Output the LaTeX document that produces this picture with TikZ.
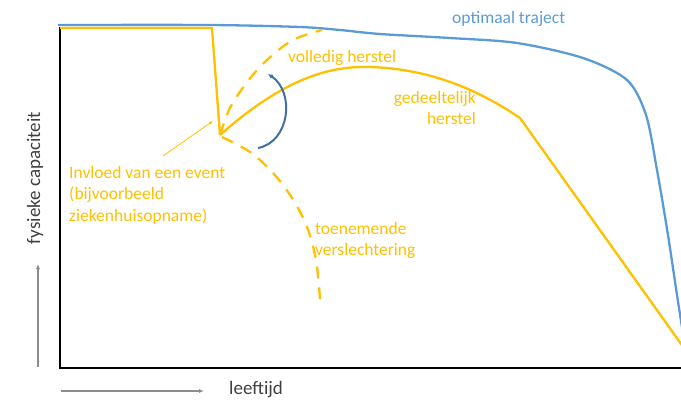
\documentclass[tikz,border=0pt]{standalone}
\usepackage{fontspec}
\setmainfont{Carlito}
\usetikzlibrary{arrows.meta}

\definecolor{trajblue}{HTML}{5B9BD5}
\definecolor{trajorange}{HTML}{FFC000}
\definecolor{arrowblue}{HTML}{41719C}
\definecolor{guidegray}{HTML}{8C8C8C}
\definecolor{labelink}{HTML}{404040}

\begin{document}
\begin{tikzpicture}[
  x=1pt,y=-1pt,
  font=\fontsize{17.5}{21.5}\selectfont,
  axis/.style={black,line width=2.6pt,line join=miter},
  guide/.style={guidegray,line width=1.3pt,-{Latex[length=5pt,width=4pt]}},
  optimal/.style={trajblue,line width=2.3pt},
  recovery/.style={trajorange,line width=2.3pt},
  recdash/.style={recovery,dash pattern=on 12pt off 9pt},
  note/.style={text=trajorange,align=left,inner sep=0pt},
  axlabel/.style={text=labelink,inner sep=0pt,font=\fontsize{19}{23}\selectfont}
]
  \path[use as bounding box] (0,0) rectangle (681,400);

  % axes and the two guide arrows
  \coordinate (origin) at (60,368);
  \draw[axis] (60,27) -- (origin) -- (684,368);
  \coordinate (yfoot) at (38,367);
  \coordinate (yhead) at (38,264);
  \draw[guide] (yfoot) -- (yhead);
  \coordinate (xfoot) at (61,391);
  \coordinate (xhead) at (204,391);
  \draw[guide] (xfoot) -- (xhead);
  \node[axlabel,rotate=90] (ylabel) at (35,178) {fysieke capaciteit};
  \node[axlabel,anchor=west] (xlabel) at (229,390) {leeftijd};

  % optimal trajectory
  \draw[optimal] plot[smooth,tension=.5] coordinates {
    (58,25) (210,25) (300,27) (340,30) (380,34) (450,38) (517,43)
    (583,58) (627,80) (646,115) (657,170) (668,235) (677,295) (684,340)};
  \node[text=trajblue,inner sep=0pt,anchor=west] (optlabel) at (452,19) {optimaal traject};

  % event and the three possible courses
  \coordinate (event) at (220,135);
  \draw[recovery,line join=miter] (60,28) -- (212,28) -- (event);
  \draw[recovery] (event) .. controls (280,82) and (325,66) .. (368,67)
    .. controls (420,68) and (470,84) .. (520,118) -- (684,348);
  \draw[recdash] plot[smooth,tension=.6] coordinates {
    (event) (230,108) (248,81) (267,60) (293,40) (322,30)};
  \draw[recdash] plot[smooth,tension=.6] coordinates {
    (222,137) (250,152) (273,173) (292,198) (307,227) (316,260) (320,299)};

  \coordinate (bendfoot) at (258,148);
  \coordinate (bendhead) at (268,74);
  \draw[arrowblue,line width=2pt,-{Latex[length=5pt,width=5pt]}]
    (bendfoot) .. controls (290,142) and (295,92) .. (bendhead);

  \node[note,anchor=west] (fullrec) at (288,58) {volledig herstel};
  \node[note,anchor=north east,align=right] (partrec) at (476,91) {gedeeltelijk\\herstel};
  \node[note,anchor=north west] (decline) at (315,222) {toenemende\\verslechtering};
  \node[note,anchor=north west] (invloed) at (69,166)
    {Invloed van een event\\(bijvoorbeeld\\ziekenhuisopname)};
  \coordinate (evtail) at (163,156);
  \coordinate (evtip) at (213,121);
  \draw[trajorange,line width=.8pt,-{Latex[length=4pt,width=3.5pt]}] (evtail) -- (evtip);
\end{tikzpicture}
\end{document}
